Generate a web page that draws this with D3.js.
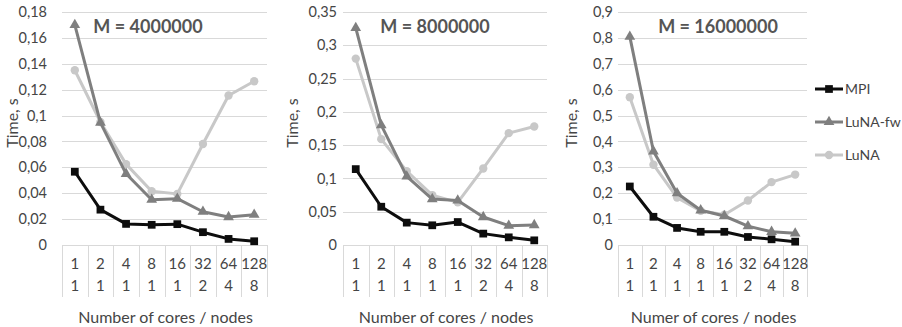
<!DOCTYPE html>
<html>
<head>
<meta charset="utf-8">
<script src="https://cdn.jsdelivr.net/npm/d3@7"></script>
<style>
  body { margin: 0; background: #fff; }
  svg text { font-family: Lato, "Open Sans", sans-serif; fill: #454545; }
  .grid line { stroke: #d9d9d9; stroke-width: 1; }
  .sep { stroke: #d9d9d9; stroke-width: 1; }
</style>
</head>
<body>
<svg id="chart" width="902" height="327"></svg>
<script>
// categories (cores / nodes)
const cores = ["1", "2", "4", "8", "16", "32", "64", "128"];
const nodes = ["1", "1", "1", "1", "1", "2", "4", "8"];
const seriesNames = ["MPI", "LuNA-fw", "LuNA"];

// M = 4000000
const mpi4M    = [0.0566, 0.0273, 0.0163, 0.0156, 0.0161, 0.0099, 0.0047, 0.0029];
const lunaFw4M = [0.1700, 0.0945, 0.0550, 0.0350, 0.0358, 0.0257, 0.0216, 0.0234];
const luna4M   = [0.1350, 0.0950, 0.0625, 0.0415, 0.0395, 0.0780, 0.1155, 0.1265];
// M = 8000000
const mpi8M    = [0.1140, 0.0575, 0.0336, 0.0296, 0.0345, 0.0171, 0.0115, 0.0070];
const lunaFw8M = [0.3260, 0.1800, 0.1030, 0.0690, 0.0670, 0.0420, 0.0290, 0.0300];
const luna8M   = [0.2800, 0.1590, 0.1110, 0.0750, 0.0640, 0.1150, 0.1680, 0.1780];
// M = 16000000
const mpi16M    = [0.226, 0.109, 0.066, 0.051, 0.051, 0.031, 0.022, 0.013];
const lunaFw16M = [0.805, 0.362, 0.200, 0.134, 0.112, 0.073, 0.051, 0.045];
const luna16M   = [0.571, 0.310, 0.183, 0.132, 0.117, 0.172, 0.243, 0.272];

const titles = ["M = 4000000", "M = 8000000", "M = 16000000"];
const xTitles = ["Number of cores / nodes", "Number of cores / nodes", "Numer of cores / nodes"];
const yMax = [0.18, 0.35, 0.9];
const yStep = [0.02, 0.05, 0.1];

const colors = {"MPI": "#0d0d0d", "LuNA-fw": "#7f7f7f", "LuNA": "#c8c8c8"};
const symbols = {"MPI": d3.symbolSquare, "LuNA-fw": d3.symbolTriangle, "LuNA": d3.symbolCircle};
const symSize = {"MPI": 60, "LuNA-fw": 50, "LuNA": 55};

const panels = [
	{left: 62, right: 267, labelX: 47, yTitleX: 12, titleX: 148, series: [mpi4M, lunaFw4M, luna4M]},
	{left: 343, right: 547, labelX: 337, yTitleX: 292, titleX: 435, series: [mpi8M, lunaFw8M, luna8M]},
	{left: 618, right: 807, labelX: 613, yTitleX: 571, titleX: 718, series: [mpi16M, lunaFw16M, luna16M]}
];
const plotTop = 12, plotBottom = 245;

const fmt = function(v){
	return (Math.round(v*100)/100).toString().replace('.', ',');
};

const svg = d3.select('#chart');

panels.forEach(function(p, pi){
	const g = svg.append('g');
	const x = d3.scaleBand().domain(cores).range([p.left, p.right]);
	const y = d3.scaleLinear().domain([0, yMax[pi]]).range([plotBottom, plotTop]);
	const ticks = d3.range(0, yMax[pi] + yStep[pi]/2, yStep[pi]);

	//grid
	g.append('g').attr('class', 'grid').selectAll('line').data(ticks).enter().append('line')
		.attr('x1', p.left).attr('x2', p.right)
		.attr('y1', function(d){ return Math.round(y(d)) + 0.5; })
		.attr('y2', function(d){ return Math.round(y(d)) + 0.5; });

	g.selectAll('text.ytick').data(ticks).enter().append('text').attr('class', 'ytick')
		.attr('x', p.labelX).attr('y', function(d){ return y(d); })
		.attr('dy', '0.35em').attr('text-anchor', 'end')
		.style('font-size', '14.5px')
		.text(function(d){ return d === 0 ? '0' : fmt(d); });

	//category separators
	const bounds = cores.map(function(c){ return x(c); }).concat([p.right]);
	g.selectAll('line.sep').data(bounds).enter().append('line').attr('class', 'sep')
		.attr('x1', function(d){ return Math.round(d) + 0.5; })
		.attr('x2', function(d){ return Math.round(d) + 0.5; })
		.attr('y1', plotBottom).attr('y2', 297);

	g.selectAll('text.cat1').data(cores).enter().append('text').attr('class', 'cat1')
		.attr('x', function(d){ return x(d) + x.bandwidth()/2; }).attr('y', 264)
		.attr('dy', '0.35em').attr('text-anchor', 'middle').style('font-size', '15px')
		.text(function(d){ return d; });
	g.selectAll('text.cat2').data(nodes).enter().append('text').attr('class', 'cat2')
		.attr('x', function(d, i){ return x(cores[i]) + x.bandwidth()/2; }).attr('y', 286)
		.attr('dy', '0.35em').attr('text-anchor', 'middle').style('font-size', '15px')
		.text(function(d){ return d; });

	//axis titles
	g.append('text').attr('x', (p.left + p.right)/2 + 1).attr('y', 317).attr('dy', '0.35em')
		.attr('text-anchor', 'middle').style('font-size', '16px')
		.text(xTitles[pi]);
	g.append('text')
		.attr('transform', 'translate(' + p.yTitleX + ',' + 123 + ') rotate(-90)')
		.attr('dy', '0.35em').attr('text-anchor', 'middle').style('font-size', '16px')
		.text('Time, s');

	//series (draw light first so MPI sits on top)
	[2, 1, 0].forEach(function(si){
		const name = seriesNames[si];
		const vals = p.series[si];
		const line = d3.line()
			.x(function(d, i){ return x(cores[i]) + x.bandwidth()/2; })
			.y(function(d){ return y(d); });
		g.append('path').datum(vals)
			.attr('fill', 'none').attr('stroke', colors[name]).attr('stroke-width', 3)
			.attr('stroke-linejoin', 'round')
			.attr('d', line);
		g.selectAll('path.m' + si).data(vals).enter().append('path').attr('class', 'm' + si)
			.attr('transform', function(d, i){ return 'translate(' + (x(cores[i]) + x.bandwidth()/2) + ',' + y(d) + ')'; })
			.attr('d', d3.symbol().type(symbols[name]).size(symSize[name]))
			.attr('fill', colors[name]);
	});

	g.append('text').attr('x', p.titleX).attr('y', 27).attr('dy', '0.35em')
		.attr('text-anchor', 'middle').style('font-size', '18px').style('font-weight', 'bold')
		.style('fill', '#555')
		.text(titles[pi]);
});

//legend
const legend = svg.append('g').attr('transform', 'translate(815,0)');
const legY = [89, 122, 155];
seriesNames.forEach(function(name, i){
	const row = legend.append('g').attr('transform', 'translate(0,' + legY[i] + ')');
	row.append('line').attr('x1', 0).attr('x2', 28).attr('y1', 0).attr('y2', 0)
		.attr('stroke', colors[name]).attr('stroke-width', 3);
	row.append('path').attr('transform', 'translate(14,0)')
		.attr('d', d3.symbol().type(symbols[name]).size(symSize[name]))
		.attr('fill', colors[name]);
	row.append('text').attr('x', 30).attr('y', 0).attr('dy', '0.35em')
		.style('font-size', '14px').text(name);
});
</script>
</body>
</html>
